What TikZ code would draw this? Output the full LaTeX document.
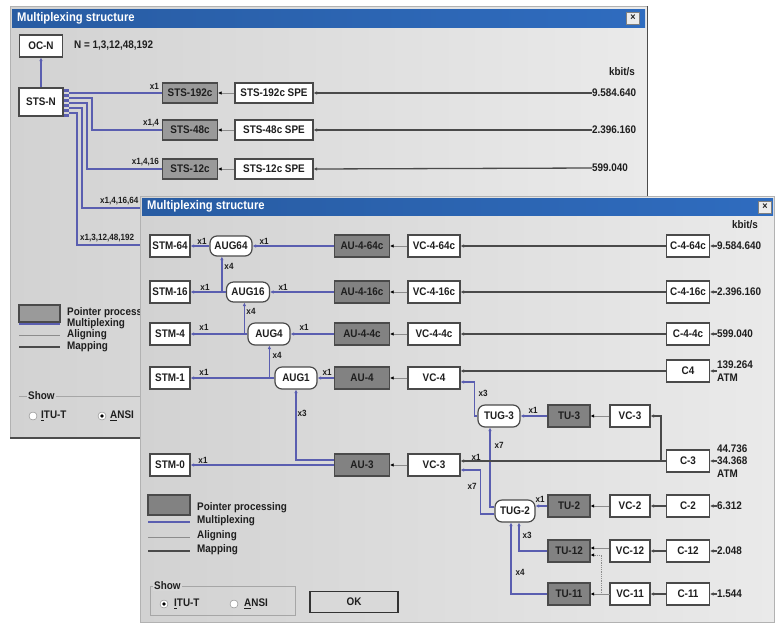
\documentclass[tikz,border=0pt]{standalone}
\usepackage{fontspec}
\setmainfont{Liberation Sans}[FakeStretch=0.9]
\usetikzlibrary{arrows.meta,calc}
\definecolor{titleblue}{HTML}{2F6CBF}
\definecolor{muxblue}{HTML}{5A5EB0}
\definecolor{mapgray}{HTML}{4A4A4A}
\definecolor{aligngray}{HTML}{8C8C8C}
\definecolor{ppgray}{HTML}{828282}
\definecolor{ppgrayb}{HTML}{9A9A9A}
\definecolor{boxedge}{HTML}{4A4A4A}
\definecolor{txt}{HTML}{1E1E1E}
\definecolor{winbgL}{HTML}{D2D2D2}
\definecolor{winbgR}{HTML}{EAEAEA}
\tikzset{
 lbl/.style={font=\fontsize{11}{12}\selectfont\bfseries, text=txt, inner sep=0pt},
 wbox/.style={lbl, draw=boxedge, line width=1.2pt, fill=white, minimum height=22pt},
 gbox/.style={lbl, draw=boxedge, line width=1.2pt, fill=ppgray, minimum height=22pt},
 gboxb/.style={gbox, fill=ppgrayb, minimum height=20pt},
 rbox/.style={wbox, rounded corners=7pt},
 mux/.style={draw=muxblue, line width=1.2pt},
 muxa/.style={mux, -{Latex[length=3.5pt,width=3.5pt]}},
 map/.style={draw=mapgray, line width=1.3pt},
 mapa/.style={map, -{Latex[length=3.5pt,width=3.5pt]}},
 aln/.style={draw=aligngray, line width=0.8pt},
 alna/.style={aln, -{Latex[length=3.5pt,width=3.5pt,color=black]}},
 cnt/.style={font=\fontsize{9}{10}\selectfont\bfseries, text=txt, inner sep=0pt},
 rate/.style={font=\fontsize{11}{12.5}\selectfont\bfseries, text=txt, inner sep=0pt, anchor=west, align=left},
 ttl/.style={font=\fontsize{12.5}{13}\selectfont\bfseries, text=white, inner sep=0pt, anchor=west},
 closebtn/.style={draw=gray, fill=gray!15, minimum width=13pt, minimum height=12pt, inner sep=0pt, font=\fontsize{10}{10}\selectfont\bfseries, text=txt},
 radio/.style={circle, draw=gray, fill=white, minimum size=8pt, inner sep=0pt},
}
\begin{document}
\begin{tikzpicture}[x=1pt,y=-1pt]
\useasboundingbox (0,0) rectangle (775,625);
\fill[white] (0,0) rectangle (775,625);

%% ================= BACK WINDOW =================
\shade[left color=winbgL, right color=winbgR] (10,6) rectangle (647,438);
\draw[gray!60, line width=0.8pt] (10,6) rectangle (647,438);
\draw[black!70, line width=1.5pt] (647.5,6) -- (647.5,438) -- (10,438);
\shade[left color=titleblue!85!black, right color=titleblue] (12,9) rectangle (645,27);
\node[ttl] (bt) at (17,18) {Multiplexing structure};
\node[closebtn] (bx) at (633,18) {×};

\node[wbox, minimum width=43pt] (ocn) at (41,46) {OC-N};
\node[lbl, anchor=west] (nlab) at (74,46) {N = 1,3,12,48,192};
\node[wbox, minimum width=44pt, minimum height=28pt] (stsn) at (41,102) {STS-N};
\draw[muxa] (stsn) -- (ocn);
\foreach \yy in {90,95,100,105,110,115} \fill[muxblue] (64,\yy-1.5) rectangle (69,\yy+1.5);

\node[gboxb, minimum width=55pt] (s192) at (190,93) {STS-192c};
\node[gboxb, minimum width=55pt] (s48) at (190,130) {STS-48c};
\node[gboxb, minimum width=55pt] (s12) at (190,169) {STS-12c};
\node[wbox, minimum width=78pt, minimum height=20pt] (p192) at (274,93) {STS-192c SPE};
\node[wbox, minimum width=78pt, minimum height=20pt] (p48) at (274,130) {STS-48c SPE};
\node[wbox, minimum width=78pt, minimum height=20pt] (p12) at (274,169) {STS-12c SPE};
\coordinate (e4) at (150,208);
\coordinate (e5) at (150,245);

\draw[mux] (69,93) -- (s192.west);
\draw[mux] (69,98) -- (92,98) |- (s48.west);
\draw[mux] (69,103) -- (87,103) |- (s12.west);
\draw[mux] (69,108) -- (82,108) |- (e4);
\draw[mux] (69,113) -- (77,113) |- (e5);
\node[cnt, anchor=south east] (bl1) at (159,90) {x1};
\node[cnt, anchor=south east] (bl2) at (159,127) {x1,4};
\node[cnt, anchor=south east] (bl3) at (159,166) {x1,4,16};
\begin{scope}
\clip (0,0) rectangle (139,625);
\node[cnt, anchor=south west] (bl4) at (100,205) {x1,4,16,64};
\node[cnt, anchor=south west] (bl5) at (80,242) {x1,3,12,48,192};
\node[lbl, anchor=west] (blt1) at (67,313) {Pointer processing};
\end{scope}

\draw[alna] (p192.west) -- (s192.east);
\draw[alna] (p48.west) -- (s48.east);
\draw[alna] (p12.west) -- (s12.east);
\node[lbl, anchor=center] (bk) at (622,72) {kbit/s};
\node[rate] (br1) at (592,93) {9.584.640};
\node[rate] (br2) at (592,130) {2.396.160};
\node[rate] (br3) at (592,168) {599.040};
\draw[mapa] (br1.west) -- (p192.east);
\draw[mapa] (br2.west) -- (p48.east);
\draw[mapa] (br3.west) -- (p12.east);

% back legend
\node[gboxb, minimum width=41pt, minimum height=17pt] (blg) at (39.5,313.5) {};
\draw[mux] (19,324) -- (60,324);
\node[lbl, anchor=west] (blt2) at (67,324) {Multiplexing};
\draw[aln] (19,335) -- (60,335);
\node[lbl, anchor=west] (blt3) at (67,335) {Aligning};
\draw[map] (19,347) -- (60,347);
\node[lbl, anchor=west] (blt4) at (67,347) {Mapping};
\draw[gray!70] (19,396) -- (145,396);
\node[lbl, anchor=west, fill=winbgL!90!winbgR, inner sep=1pt] (bshow) at (27,396) {Show};
\node[radio] (brad1) at (33,416) {};
\node[lbl, anchor=west] (bitu) at (41,416) {\underline{I}TU-T};
\node[radio] (brad2) at (102,416) {};
\fill[black] (brad2) circle (1.8pt);
\node[lbl, anchor=west] (bansi) at (110,416) {\underline{A}NSI};

%% ================= FRONT WINDOW =================
\shade[left color=winbgL, right color=winbgR] (140,196) rectangle (775,622);
\draw[gray!60, line width=1pt] (140,196) rectangle (774.5,622);
\shade[left color=titleblue!85!black, right color=titleblue] (142,198) rectangle (773,215);
\node[ttl] (ft) at (147,206) {Multiplexing structure};
\node[closebtn] (fx) at (765,207) {×};
\node[lbl] (fk) at (745,225) {kbit/s};

% STM column
\node[wbox, minimum width=40pt] (stm64) at (170,246) {STM-64};
\node[wbox, minimum width=40pt] (stm16) at (170,292) {STM-16};
\node[wbox, minimum width=40pt] (stm4) at (170,334) {STM-4};
\node[wbox, minimum width=40pt] (stm1) at (170,378) {STM-1};
\node[wbox, minimum width=40pt] (stm0) at (170,465) {STM-0};
% AUG
\node[rbox, minimum width=42pt, minimum height=20pt] (aug64) at (231,246) {AUG64};
\node[rbox, minimum width=43pt, minimum height=20pt] (aug16) at (248,292) {AUG16};
\node[rbox, minimum width=42pt] (aug4) at (269,334) {AUG4};
\node[rbox, minimum width=42pt] (aug1) at (296,378) {AUG1};
% AU
\node[gbox, minimum width=55pt] (au64) at (362,246) {AU-4-64c};
\node[gbox, minimum width=55pt] (au16) at (362,292) {AU-4-16c};
\node[gbox, minimum width=55pt] (au4c) at (362,334) {AU-4-4c};
\node[gbox, minimum width=55pt] (au4) at (362,378) {AU-4};
\node[gbox, minimum width=55pt] (au3) at (362,465) {AU-3};
% VC
\node[wbox, minimum width=52pt] (vc64) at (434,246) {VC-4-64c};
\node[wbox, minimum width=52pt] (vc16) at (434,292) {VC-4-16c};
\node[wbox, minimum width=52pt] (vc4c) at (434,334) {VC-4-4c};
\node[wbox, minimum width=52pt] (vc4) at (434,378) {VC-4};
\node[wbox, minimum width=52pt] (vc3) at (434,465) {VC-3};
% C
\node[wbox, minimum width=43pt] (c64) at (688,246) {C-4-64c};
\node[wbox, minimum width=43pt] (c16) at (688,292) {C-4-16c};
\node[wbox, minimum width=43pt] (c4c) at (688,334) {C-4-4c};
\node[wbox, minimum width=43pt] (c4) at (688,371) {C4};
\node[wbox, minimum width=43pt] (c3) at (688,461) {C-3};
\node[wbox, minimum width=43pt] (c2) at (688,506) {C-2};
\node[wbox, minimum width=43pt] (c12) at (688,551) {C-12};
\node[wbox, minimum width=43pt] (c11) at (688,594) {C-11};
% TUG / TU / VC lower
\node[rbox, minimum width=42pt] (tug3) at (499,416) {TUG-3};
\node[gbox, minimum width=42pt] (tu3) at (569,416) {TU-3};
\node[wbox, minimum width=40pt] (vc3u) at (630,416) {VC-3};
\node[rbox, minimum width=40pt] (tug2) at (515,511) {TUG-2};
\node[gbox, minimum width=42pt] (tu2) at (569,506) {TU-2};
\node[wbox, minimum width=40pt] (vc2) at (630,506) {VC-2};
\node[gbox, minimum width=42pt] (tu12) at (569,551) {TU-12};
\node[wbox, minimum width=40pt] (vc12) at (630,551) {VC-12};
\node[gbox, minimum width=42pt] (tu11) at (569,594) {TU-11};
\node[wbox, minimum width=40pt] (vc11) at (630,594) {VC-11};
% rates
\node[rate] (r64) at (717,246) {9.584.640};
\node[rate] (r16) at (717,292) {2.396.160};
\node[rate] (r4c) at (717,334) {599.040};
\node[rate] (r4) at (717,371) {139.264\\ATM};
\node[rate] (r3) at (717,461) {44.736\\34.368\\ATM};
\node[rate] (r2) at (717,506) {6.312};
\node[rate] (r12) at (717,551) {2.048};
\node[rate] (r11) at (717,594) {1.544};

% multiplexing connectors
\draw[muxa] (aug64.west) -- (stm64.east);
\draw[muxa] (au64.west) -- (aug64.east);
\draw[muxa] (aug16.west) -- (stm16.east);
\draw[mux] (aug16.west) -- ++(-4,0) coordinate (j16);
\draw[muxa] (j16) -- (j16 |- aug64.south);
\draw[muxa] (au16.west) -- (aug16.east);
\draw[muxa] (aug4.west) -- (stm4.east);
\draw[mux] (aug4.west) -- ++(-3,0) coordinate (j4);
\draw[muxa] (j4) -- (j4 |- aug16.south);
\draw[muxa] (au4c.west) -- (aug4.east);
\draw[muxa] (aug1.west) -- (stm1.east);
\draw[mux] (aug1.west) -- ++(-5,0) coordinate (j1);
\draw[muxa] (j1) -- (j1 |- aug4.south);
\draw[muxa] (au4.west) -- (aug1.east);
\draw[muxa] (au3.west) -- (stm0.east);
\draw[muxa] ($(au3.west)+(0,-5)$) -| (aug1.south);
\draw[muxa] (tug3.west) -- ++(-3,0) |- ($(vc4.east)+(0,4)$);
\draw[muxa] (tu3.west) -- (tug3.east);
\draw[muxa] ($(tug2.west)+(0,-4)$) -| ($(tug3.south)+(-9,0)$);
\draw[muxa] ($(tug2.west)+(0,3)$) -- ++(-14,0) |- ($(vc3.east)+(0,5)$);
\draw[muxa] (tu2.west) -- (tug2.east |- tu2.west);
\draw[muxa] (tu12.west) -| ($(tug2.south)+(4,0)$);
\draw[muxa] (tu11.west) -| ($(tug2.south)+(-4,0)$);

% aligning connectors
\draw[alna] (vc64.west) -- (au64.east);
\draw[alna] (vc16.west) -- (au16.east);
\draw[alna] (vc4c.west) -- (au4c.east);
\draw[alna] (vc4.west) -- (au4.east);
\draw[alna] (vc3.west) -- (au3.east);
\draw[alna] (vc3u.west) -- (tu3.east);
\draw[alna] (vc2.west) -- (tu2.east);
\draw[alna] ($(vc12.west)+(0,-3)$) -- ($(tu12.east)+(0,-3)$);
\draw[alna] (vc11.west) -- (tu11.east);
\draw[aln, densely dotted, -{Latex[length=3.5pt,width=3.5pt,color=black]}] (vc11.west) -- ++(-8,0) |- ($(tu12.east)+(0,4)$);

% mapping connectors
\draw[mapa] (c64.west) -- (vc64.east);
\draw[mapa] (c16.west) -- (vc16.east);
\draw[mapa] (c4c.west) -- (vc4c.east);
\draw[mapa] (c4.west) -- (vc4.east |- c4.west);
\draw[mapa] (c3.west) -- (vc3.east |- c3.west);
\draw[mapa] ($(c3.west)+(-5,0)$) |- (vc3u.east);
\draw[mapa] (c2.west) -- (vc2.east);
\draw[mapa] (c12.west) -- (vc12.east);
\draw[mapa] (c11.west) -- (vc11.east);
\draw[mapa] (r64.west) -- (c64.east);
\draw[mapa] (r16.west) -- (c16.east);
\draw[mapa] (r4c.west) -- (c4c.east);
\draw[mapa] (r4.west) -- (c4.east);
\draw[mapa] (r3.west) -- (c3.east);
\draw[mapa] (r2.west) -- (c2.east);
\draw[mapa] (r12.west) -- (c12.east);
\draw[mapa] (r11.west) -- (c11.east);

% counts
\node[cnt] (k1) at (202,241) {x1};
\node[cnt] (k2) at (264,241) {x1};
\node[cnt] (k3) at (229,266) {x4};
\node[cnt] (k4) at (205,287) {x1};
\node[cnt] (k5) at (283,287) {x1};
\node[cnt] (k6) at (251,311) {x4};
\node[cnt] (k7) at (204,327) {x1};
\node[cnt] (k8) at (304,327) {x1};
\node[cnt] (k9) at (277,355) {x4};
\node[cnt] (k10) at (204,372) {x1};
\node[cnt] (k11) at (327,372) {x1};
\node[cnt] (k12) at (302,413) {x3};
\node[cnt] (k13) at (203,460) {x1};
\node[cnt] (k14) at (483,393) {x3};
\node[cnt] (k15) at (533,410) {x1};
\node[cnt] (k16) at (499,445) {x7};
\node[cnt] (k17) at (476,457) {x1};
\node[cnt] (k18) at (472,486) {x7};
\node[cnt] (k19) at (540,499) {x1};
\node[cnt] (k20) at (527,535) {x3};
\node[cnt] (k21) at (520,572) {x4};

% front legend
\node[gbox, minimum width=42pt, minimum height=20pt] (flg) at (169,505) {};
\node[lbl, anchor=west] (flt1) at (197,508) {Pointer processing};
\draw[mux] (148,522) -- (190,522);
\node[lbl, anchor=west] (flt2) at (197,521) {Multiplexing};
\draw[aln] (148,537) -- (190,537);
\node[lbl, anchor=west] (flt3) at (197,536) {Aligning};
\draw[map] (148,551) -- (190,551);
\node[lbl, anchor=west] (flt4) at (197,550) {Mapping};

% show group + OK
\draw[gray!70] (150,586) rectangle (295,615);
\node[lbl, anchor=west, fill=winbgL!85!winbgR, inner sep=1pt] (fshow) at (153,586) {Show};
\node[radio] (frad1) at (164,604) {};
\fill[black] (frad1) circle (1.8pt);
\node[lbl, anchor=west] (fitu) at (174,604) {\underline{I}TU-T};
\node[radio] (frad2) at (234,604) {};
\node[lbl, anchor=west] (fansi) at (244,604) {\underline{A}NSI};
\node[lbl, draw=black!80, line width=1.3pt, fill=winbgL!70!winbgR, minimum width=88pt, minimum height=21pt] (ok) at (354,602) {OK};
\end{tikzpicture}
\end{document}
